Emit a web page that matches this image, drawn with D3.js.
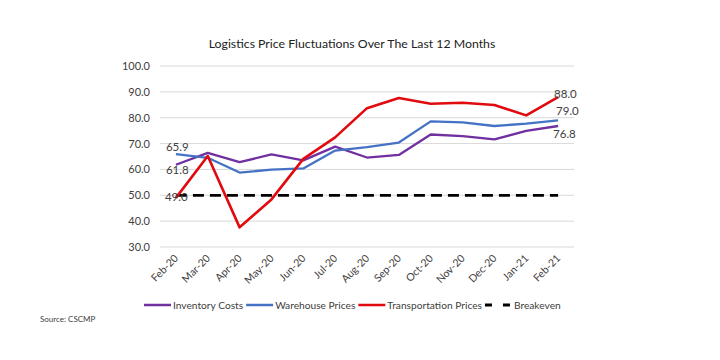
<!DOCTYPE html>
<html><head><meta charset="utf-8">
<script src="https://cdn.jsdelivr.net/npm/d3@7"></script>
<style>body{margin:0;background:#fff}svg{display:block}</style>
</head><body>
<svg id="c" width="720" height="360"></svg>
<script>
const months = ["Feb-20","Mar-20","Apr-20","May-20","Jun-20","Jul-20","Aug-20","Sep-20","Oct-20","Nov-20","Dec-20","Jan-21","Feb-21"];
const inventory = [61.8,66.4,62.8,65.8,63.5,68.8,64.6,65.6,73.5,72.9,71.6,74.9,76.8];
const warehouse = [65.9,64.5,58.8,59.9,60.4,67.3,68.6,70.4,78.6,78.2,76.8,77.7,79.0];
const transport = [49.0,65.2,37.6,48.4,64.1,72.4,83.7,87.6,85.4,85.8,84.9,80.9,88.0];
const breakeven = [50,50,50,50,50,50,50,50,50,50,50,50,50];
const yTicks = [30,40,50,60,70,80,90,100];
const font = "Lato, 'Open Sans', sans-serif";

const svg = d3.select("#c");
const x = d3.scaleBand().domain(months).range([160,574]);
const y = d3.scaleLinear().domain([30,100]).range([247,66]);
const cx = d => x(d) + x.bandwidth()/2;

// gridlines
svg.append("g").selectAll("line").data(yTicks).join("line")
  .attr("x1",160).attr("x2",574).attr("y1",d=>y(d)).attr("y2",d=>y(d))
  .attr("stroke","#d9d9d9").attr("stroke-width",1);

// y axis labels
const yAxis = d3.axisLeft(y).tickValues(yTicks).tickFormat(d3.format(".1f")).tickSize(0).tickPadding(10);
const yg = svg.append("g").attr("transform","translate(160,0)").call(yAxis);
yg.select(".domain").remove();
yg.selectAll("text").attr("font-family",font).attr("font-size",11).attr("fill","#404040");

// x axis labels
const xAxis = d3.axisBottom(x).tickSize(0).tickPadding(0);
const xg = svg.append("g").attr("transform","translate(0,247)").call(xAxis);
xg.select(".domain").remove();
xg.selectAll("text").attr("font-family",font).attr("font-size",10.5).attr("fill","#404040")
  .attr("text-anchor","end").attr("dy",0).attr("y",0)
  .attr("transform","translate(3,12) rotate(-45)");

const line = d3.line().x((d,i)=>cx(months[i])).y(d=>y(d));

svg.append("path").datum(breakeven).attr("d",line).attr("fill","none")
  .attr("stroke","#000").attr("stroke-width",2.8).attr("stroke-dasharray","11,6");
svg.append("path").datum(inventory).attr("d",line).attr("fill","none")
  .attr("stroke","#7030A0").attr("stroke-width",2.3).attr("stroke-linejoin","round");
svg.append("path").datum(warehouse).attr("d",line).attr("fill","none")
  .attr("stroke","#4472C4").attr("stroke-width",2.3).attr("stroke-linejoin","round");
svg.append("path").datum(transport).attr("d",line).attr("fill","none")
  .attr("stroke","#E00A0F").attr("stroke-width",2.6).attr("stroke-linejoin","round");

// data labels
const labels = [
  {v:warehouse[0], i:0, dx:-10, dy:-3},
  {v:inventory[0], i:0, dx:-10, dy:9},
  {v:transport[0], i:0, dx:-11, dy:3},
  {v:transport[12], i:12, dx:-4, dy:1},
  {v:warehouse[12], i:12, dx:-2, dy:-5},
  {v:inventory[12], i:12, dx:-5, dy:12}
];
svg.append("g").selectAll("text").data(labels).join("text")
  .attr("x",d=>cx(months[d.i])+d.dx).attr("y",d=>y(d.v)+d.dy)
  .attr("font-family",font).attr("font-size",11.5).attr("fill","#404040")
  .text(d=>d3.format(".1f")(d.v));

// title
svg.append("text").attr("x",352).attr("y",48).attr("text-anchor","middle")
  .attr("font-family",font).attr("font-size",12.3).attr("fill","#222")
  .text("Logistics Price Fluctuations Over The Last 12 Months");

// legend
const legend = [
  {name:"Inventory Costs", color:"#7030A0"},
  {name:"Warehouse Prices", color:"#4472C4"},
  {name:"Transportation Prices", color:"#E00A0F"},
  {name:"Breakeven", color:"#000", dash:true}
];
const lg = svg.append("g");
let lx = 144;
legend.forEach(l=>{
  lg.append("line").attr("x1",lx).attr("x2",lx+27).attr("y1",305).attr("y2",305)
    .attr("stroke",l.color).attr("stroke-width",l.dash?2.8:2.5)
    .attr("stroke-dasharray",l.dash?"7,11":null);
  const t = lg.append("text").attr("x",lx+29).attr("y",309).attr("font-family",font)
    .attr("font-size",10.2).attr("fill","#404040").text(l.name);
  lx += 29 + t.node().getComputedTextLength() + 3;
});

svg.append("text").attr("x",40).attr("y",322).attr("font-family",font)
  .attr("font-size",8).attr("fill","#404040").text("Source:  CSCMP");
</script>
</body></html>
